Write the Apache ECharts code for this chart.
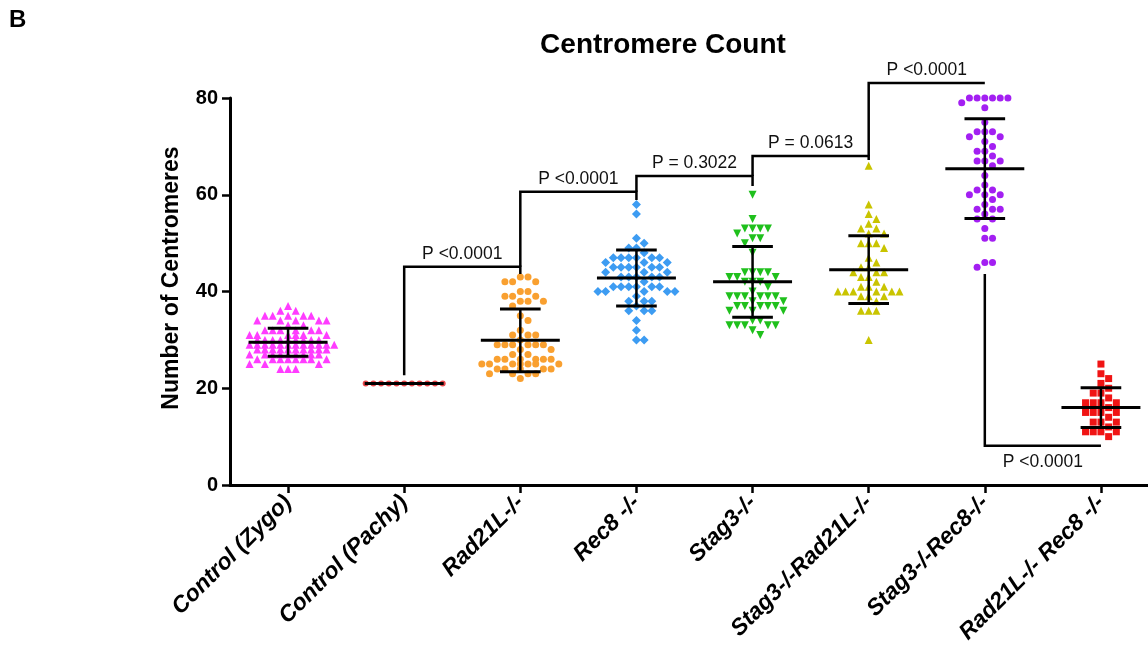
<!DOCTYPE html>
<html><head><meta charset="utf-8">
<script src="https://cdn.jsdelivr.net/npm/echarts@6/dist/echarts.min.js"></script>
<style>html,body{margin:0;padding:0;background:#fff}#c{width:1148px;height:654px}</style>
</head><body><div id="c"></div>
<script>
const categories = ['Control (Zygo)', 'Control (Pachy)', 'Rad21L-/-', 'Rec8 -/-', 'Stag3-/-', 'Stag3-/-Rad21L-/-', 'Stag3-/-Rec8-/-', 'Rad21L-/- Rec8 -/-'];

const controlZygo = [37,36,36,35,35,35,35,35,34,34,34,34,34,33,33,32,32,32,32,32,32,31,31,31,31,31,31,
  30,30,30,30,30,30,30,30,30,29,29,29,29,29,29,29,29,29,29,29,29,28,28,28,28,28,28,28,28,28,28,
  27,27,27,27,27,27,27,27,27,26,26,26,26,26,26,26,26,25,25,25,24,24,24];
const controlPachy = [21,21,21,21,21,21,21,21,21,21,21];
const rad21L = [43,43,42,42,42,40,40,39,39,39,38,38,38,37,35,34,32,31,31,31,30,29,29,29,29,29,29,28,28,27,27,
  26,26,26,26,26,26,25,25,25,25,25,25,25,24,24,24,24,24,23,23,23,23,22];
const rec8 = [58,56,51,50,49,49,48,47,47,47,47,47,47,46,46,46,45,45,45,45,45,45,44,44,44,43,43,43,43,43,42,
  41,41,41,41,41,41,40,40,40,40,40,39,38,38,38,37,36,36,36,34,32,30,30];
const stag3 = [60,55,53,53,53,53,52,51,51,50,48,44,44,44,44,43,43,43,42,42,42,41,40,39,39,39,39,39,39,38,38,
  37,37,37,37,37,36,36,36,34,34,33,33,33,33,33,32,31];
const stag3Rad21L = [66,58,56,55,54,53,53,52,52,50,50,50,49,47,46,45,45,44,44,44,43,43,42,41,41,41,
  40,40,40,40,40,40,39,39,39,38,36,36,36,30];
const stag3Rec8 = [80,80,80,80,80,80,79,78,75,73,73,73,72,72,71,70,69,69,68,67,67,67,66,64,62,61,61,
  60,60,60,59,58,57,57,57,56,55,55,53,51,51,46,46,45];
const rad21LRec8 = [25,23,22,21,20,19,19,18,17,17,17,17,16,15,15,15,15,14,13,13,13,12,11,11,11,11,10];

const groupValues = [controlZygo, controlPachy, rad21L, rec8, stag3, stag3Rad21L, stag3Rec8, rad21LRec8];
const groupMeans = [29.5, 21.0, 29.9, 42.8, 42.0, 44.5, 65.4, 16.0];
const groupSDs = [2.9, 0, 6.5, 5.8, 7.3, 7.0, 10.3, 4.1];

const pLabels = ['P <0.0001', 'P <0.0001', 'P = 0.3022', 'P = 0.0613', 'P <0.0001', 'P <0.0001'];
const bracketFrom = [1, 2, 3, 4, 5, 6];
const bracketTo = [2, 3, 4, 5, 6, 7];
const bracketStart = [22.7, 45.1, 60.6, 63.9, 68.0, 43.6];
const bracketLevel = [45.1, 60.6, 63.9, 68.0, 83.1, 8.1];
const bracketEnd = [43.6, 58.9, 61.8, 67.2, 83.1, 8.1];

const yMin = 0, yMax = 80, yStep = 20;

// ---- styling ----
const colors = ['#ff3cff', '#e8474a', '#f9a030', '#3d9cf2', '#1fc01c', '#c9c400', '#a31ff2', '#f01414'];
const symbols = ['triangle', 'circle', 'circle', 'diamond', 'triangle', 'triangle', 'circle', 'rect'];
const symRot = [0, 0, 0, 0, 180, 0, 0, 0];
const symSize = [8, 6, 7, 9, 8, 8, 7, 7];
const FONT = '"Liberation Sans", Arial, Helvetica, sans-serif';
const SLOT = 0.0663;   // horizontal spacing of swarm slots (category units)
const MAX_SLOT = 5;

// simple beeswarm: unique slot per value, try to avoid slots of neighbouring values
function swarm(vals, idx) {
  const sorted = vals.slice().sort((a, b) => b - a);
  const used = [];
  const order = [0];
  for (let k = 1; k < 40; k++) order.push(k, -k);
  return sorted.map(v => {
    let pick = null;
    for (const s of order) {
      if (Math.abs(s) > MAX_SLOT) break;
      if (!used.some(u => u[1] === s && Math.abs(u[0] - v) < 1.5)) { pick = s; break; }
    }
    if (pick === null) {
      for (const s of order) {
        if (!used.some(u => u[1] === s && u[0] === v)) { pick = s; break; }
      }
    }
    used.push([v, pick]);
    return [idx + pick * SLOT, v];
  });
}

const series = groupValues.map((vals, gi) => ({
  type: 'scatter', xAxisIndex: 1, yAxisIndex: 0,
  data: swarm(vals, gi),
  symbol: symbols[gi], symbolSize: symSize[gi], symbolRotate: symRot[gi],
  itemStyle: { color: colors[gi], opacity: 1 },
  z: 2, silent: true
}));

series.push({
  type: 'custom', xAxisIndex: 1, yAxisIndex: 0, z: 5, silent: true,
  data: groupMeans.map((m, i) => [i, m, groupSDs[i]]),
  renderItem(params, api) {
    const i = api.value(0), m = api.value(1), s = api.value(2);
    const c = api.coord([i, m]);
    const top = api.coord([i, m + s]);
    const bot = api.coord([i, m - s]);
    const w = api.size([1, 0])[0];
    const half = w * 0.34, cap = w * 0.175;
    const st = { stroke: '#000', lineWidth: 3 };
    const ch = [{ type: 'line', shape: { x1: c[0] - half, y1: c[1], x2: c[0] + half, y2: c[1] }, style: st }];
    if (s > 0) {
      ch.push({ type: 'line', shape: { x1: top[0], y1: top[1], x2: bot[0], y2: bot[1] }, style: { stroke: '#000', lineWidth: 2.5 } });
      ch.push({ type: 'line', shape: { x1: top[0] - cap, y1: top[1], x2: top[0] + cap, y2: top[1] }, style: st });
      ch.push({ type: 'line', shape: { x1: bot[0] - cap, y1: bot[1], x2: bot[0] + cap, y2: bot[1] }, style: st });
    }
    return { type: 'group', children: ch };
  }
});

series.push({
  type: 'custom', xAxisIndex: 1, yAxisIndex: 0, z: 6, silent: true, clip: false,
  data: pLabels.map((t, i) => [bracketFrom[i], bracketTo[i], bracketStart[i], bracketLevel[i], bracketEnd[i], i]),
  renderItem(params, api) {
    const x1 = api.value(0), x2 = api.value(1);
    const a = api.coord([x1, api.value(2)]);
    const b = api.coord([x1, api.value(3)]);
    const c = api.coord([x2, api.value(3)]);
    const d = api.coord([x2, api.value(4)]);
    const k = api.value(5);
    const below = api.value(3) < api.value(2);
    return { type: 'group', children: [
      { type: 'polyline', shape: { points: [a, b, c, d] }, style: { stroke: '#000', lineWidth: 2.5, fill: null } },
      { type: 'text', style: { text: pLabels[k], x: (b[0] + c[0]) / 2, y: b[1] + (below ? 16 : -13),
          align: 'center', verticalAlign: 'middle', fontSize: 17.5, fontFamily: FONT, fill: '#111' } }
    ] };
  }
});

const chart = echarts.init(document.getElementById('c'), null, { renderer: 'canvas' });
chart.setOption({
  backgroundColor: '#fff',
  animation: false,
  grid: { left: 230, top: 98, width: 929, height: 387, containLabel: false, outerBoundsMode: 'none' },
  xAxis: [
    { type: 'category', data: categories, boundaryGap: true,
      axisLine: { show: true, lineStyle: { color: '#000', width: 3 } },
      axisTick: { show: true, alignWithLabel: true, length: 8, lineStyle: { color: '#000', width: 2.5 } },
      axisLabel: { rotate: 45, margin: 14, color: '#000', fontSize: 23, fontWeight: 'bold', fontStyle: 'italic', fontFamily: FONT },
      splitLine: { show: false } },
    { type: 'value', min: -0.5, max: 7.5, show: false, splitLine: { show: false } }
  ],
  yAxis: [{
    type: 'value', min: yMin, max: yMax, interval: yStep,
    axisLine: { show: true, onZero: false, lineStyle: { color: '#000', width: 3 } },
    axisTick: { show: true, length: 8, lineStyle: { color: '#000', width: 2.5 } },
    axisLabel: { margin: 12, color: '#000', fontSize: 20, fontWeight: 'bold', fontFamily: FONT },
    splitLine: { show: false }
  }],
  graphic: [
    { type: 'text', x: 663, y: 45, style: { text: 'Centromere Count', align: 'center', verticalAlign: 'middle',
        fontSize: 28, fontWeight: 'bold', fontFamily: FONT, fill: '#000' } },
    { type: 'text', x: 172, y: 278, rotation: Math.PI / 2, style: { text: 'Number of Centromeres', align: 'center', verticalAlign: 'middle',
        fontSize: 23, fontWeight: 'bold', fontFamily: FONT, fill: '#000' } },
    { type: 'text', x: 9, y: 20, style: { text: 'B', align: 'left', verticalAlign: 'middle',
        fontSize: 24, fontWeight: 'bold', fontFamily: FONT, fill: '#000' } }
  ],
  series: series
});
</script></body></html>
